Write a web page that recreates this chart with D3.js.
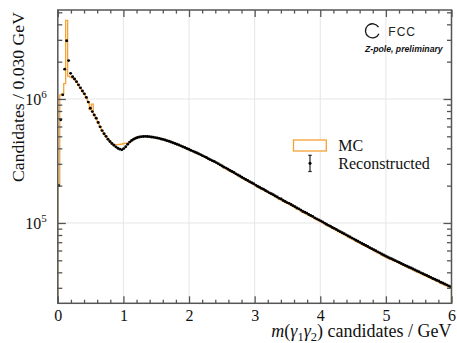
<!DOCTYPE html>
<html><head><meta charset="utf-8">
<script src="https://cdn.jsdelivr.net/npm/d3@7"></script>
<style>body{margin:0;background:#fff} svg{display:block}</style>
</head><body>
<script>
// Diphoton invariant mass spectrum, 200 bins of 0.030 GeV from 0 to 6 GeV
const binWidth = 0.03;
const massRange = [0, 6];

// Reconstructed candidates per bin
const reco = [
  200e3, 680e3, 1080e3, 1740e3, 2950e3, 2040e3, 1610e3, 1510e3, 1450e3, 1380e3,
  1300e3, 1230e3, 1160e3, 1100e3, 1030e3, 944e3, 841e3, 791e3, 743e3, 700e3,
  646e3, 596e3, 556e3, 525e3, 499e3, 473e3, 454e3, 437e3, 423e3, 411e3,
  401e3, 394e3, 389e3, 398e3, 412e3, 432e3, 449e3, 462e3, 473e3, 482e3,
  489e3, 493e3, 497e3, 498e3, 499e3, 498e3, 497e3, 494e3, 491e3, 488e3,
  485e3, 481e3, 476e3, 472e3, 467e3, 461e3, 456e3, 450e3, 444e3, 438e3,
  432e3, 426e3, 419e3, 412e3, 406e3, 399e3, 393e3, 386e3, 380e3, 374e3,
  368e3, 362e3, 356e3, 349e3, 343e3, 337e3, 330e3, 324e3, 318e3, 313e3,
  307e3, 301e3, 294e3, 288e3, 282e3, 277e3, 271e3, 265e3, 260e3, 255e3,
  249e3, 244e3, 239e3, 234e3, 229e3, 224e3, 220e3, 215e3, 211e3, 207e3,
  202e3, 198e3, 194e3, 190e3, 187e3, 183e3, 179e3, 175e3, 172e3, 169e3,
  165e3, 162e3, 158e3, 156e3, 152e3, 149e3, 146e3, 144e3, 141e3, 138e3,
  135e3, 132e3, 130e3, 127e3, 124e3, 122e3, 120e3, 117e3, 115e3, 113e3,
  110e3, 108e3, 106e3, 104e3, 102e3, 99.8e3, 97.7e3, 95.7e3, 94.0e3, 92.0e3,
  90.4e3, 88.5e3, 86.7e3, 85.1e3, 83.4e3, 81.8e3, 80.2e3, 78.5e3, 77.1e3, 75.5e3,
  74.1e3, 72.6e3, 71.3e3, 69.8e3, 68.4e3, 67.1e3, 65.8e3, 64.6e3, 63.2e3, 62.1e3,
  60.8e3, 59.7e3, 58.5e3, 57.4e3, 56.2e3, 55.2e3, 54.2e3, 53.2e3, 52.2e3, 51.4e3,
  50.5e3, 49.7e3, 48.8e3, 48.0e3, 47.1e3, 46.3e3, 45.5e3, 44.8e3, 44.0e3, 43.3e3,
  42.5e3, 41.8e3, 41.0e3, 40.4e3, 39.6e3, 39.0e3, 38.3e3, 37.7e3, 37.0e3, 36.4e3,
  35.7e3, 35.2e3, 34.5e3, 34.0e3, 33.3e3, 32.8e3, 32.2e3, 31.7e3, 31.1e3, 30.6e3
];

// Simulated (MC) candidates per bin
const mc = [
  205e3, 1080e3, 1100e3, 1330e3, 4300e3, 1530e3, 1500e3, 1480e3, 1440e3, 1380e3,
  1300e3, 1230e3, 1160e3, 1100e3, 1030e3, 944e3, 820e3, 910e3, 745e3, 700e3,
  646e3, 596e3, 556e3, 525e3, 499e3, 473e3, 454e3, 435e3, 430e3, 429e3,
  429e3, 430e3, 432e3, 436e3, 440e3, 438e3, 449e3, 462e3, 473e3, 482e3,
  489e3, 493e3, 497e3, 498e3, 499e3, 498e3, 497e3, 494e3, 491e3, 488e3,
  485e3, 481e3, 476e3, 472e3, 467e3, 461e3, 456e3, 450e3, 444e3, 438e3,
  432e3, 426e3, 419e3, 412e3, 406e3, 399e3, 393e3, 386e3, 380e3, 374e3,
  368e3, 362e3, 356e3, 349e3, 343e3, 337e3, 330e3, 324e3, 318e3, 313e3,
  307e3, 301e3, 294e3, 288e3, 279e3, 274e3, 268e3, 262e3, 257e3, 252e3,
  247e3, 242e3, 237e3, 232e3, 227e3, 222e3, 218e3, 213e3, 209e3, 205e3,
  200e3, 196e3, 192e3, 188e3, 185e3, 181e3, 177e3, 173e3, 170e3, 167e3,
  163e3, 160e3, 156e3, 154e3, 150e3, 147e3, 144e3, 142e3, 139e3, 136e3,
  133e3, 130e3, 128e3, 125e3, 122e3, 120e3, 118e3, 115.5e3, 113.5e3, 111.5e3,
  108.5e3, 106.5e3, 104.5e3, 102.5e3, 100.5e3, 98.3e3, 96.2e3, 94.3e3, 92.6e3, 90.6e3,
  89.0e3, 87.2e3, 85.4e3, 83.8e3, 82.1e3, 80.6e3, 79.0e3, 77.3e3, 75.9e3, 74.4e3,
  73.0e3, 71.5e3, 70.2e3, 68.8e3, 67.4e3, 66.1e3, 64.8e3, 63.6e3, 62.3e3, 61.2e3,
  59.9e3, 58.8e3, 57.6e3, 56.5e3, 55.4e3, 54.4e3, 53.4e3, 52.4e3, 51.4e3, 50.6e3,
  49.7e3, 49.0e3, 48.1e3, 47.3e3, 46.4e3, 45.6e3, 44.8e3, 44.1e3, 43.3e3, 42.7e3,
  41.9e3, 41.2e3, 40.4e3, 39.8e3, 39.0e3, 38.4e3, 37.7e3, 37.1e3, 36.4e3, 35.9e3,
  35.2e3, 34.7e3, 34.0e3, 33.5e3, 32.8e3, 32.3e3, 31.7e3, 31.2e3, 30.6e3, 30.1e3
];

const xMajorTicks = [0, 1, 2, 3, 4, 5, 6];
const xMinorTicks = [0.2,0.4,0.6,0.8,1.2,1.4,1.6,1.8,2.2,2.4,2.6,2.8,3.2,3.4,3.6,3.8,4.2,4.4,4.6,4.8,5.2,5.4,5.6,5.8];
const yMajorTicks = [1e5, 1e6];
const yMinorTicks = [3e4,4e4,5e4,6e4,7e4,8e4,9e4,2e5,3e5,4e5,5e5,6e5,7e5,8e5,9e5,2e6,3e6,4e6,5e6];
const yTickExponents = ["5", "6"];
const legendLabels = ["MC", "Reconstructed"];
const xTitle = ["m", "(", "γ", "1", "γ", "2", ") candidates / GeV"];
const yTitle = "Candidates / 0.030 GeV";

const W = 457, H = 343;
const serif = "'Liberation Serif','Times New Roman',serif";
const sans = "'Liberation Sans',Arial,sans-serif";
const orange = "#f5a236";
const axisCol = "#555";

const x = d3.scaleLinear().domain(massRange).range([57.8, 451.5]);
const y = d3.scaleLog().domain([2.25e4, 5.22e6]).range([303.3, 10]);
const [x0, x1] = x.range();
const [yB, yT] = y.range();

const svg = d3.select("body").append("svg").attr("width", W).attr("height", H);

svg.append("defs").append("clipPath").attr("id", "plotclip")
  .append("rect").attr("x", x0).attr("y", yT).attr("width", x1 - x0).attr("height", yB - yT);

// grid
const grid = svg.append("g");
grid.selectAll(".gx").data(xMajorTicks.slice(1, -1)).join("line")
  .attr("x1", d => x(d)).attr("x2", d => x(d)).attr("y1", yT).attr("y2", yB)
  .attr("stroke", "#e6e6e6").attr("stroke-width", 1);
grid.selectAll(".gy").data(yMajorTicks).join("line")
  .attr("x1", x0).attr("x2", x1).attr("y1", d => y(d)).attr("y2", d => y(d))
  .attr("stroke", "#e6e6e6").attr("stroke-width", 1);

const plot = svg.append("g").attr("clip-path", "url(#plotclip)");

// MC histogram as a step outline
const stepPts = [[x(massRange[0]), yB]];
mc.forEach((v, i) => {
  const lo = massRange[0] + i * binWidth, hi = lo + binWidth;
  stepPts.push([x(lo), y(v)], [x(hi), y(v)]);
});
stepPts.push([x(massRange[1]), yB]);
plot.append("path").attr("d", d3.line()(stepPts))
  .attr("fill", "none").attr("stroke", orange).attr("stroke-width", 1.3)
  .attr("stroke-linejoin", "miter");

// reconstructed points
plot.selectAll("circle.reco").data(reco).join("circle")
  .attr("class", "reco")
  .attr("cx", (d, i) => x(massRange[0] + (i + 0.5) * binWidth))
  .attr("cy", d => y(d))
  .attr("r", 1.45).attr("fill", "#000");

// axes (ticks pointing inward on all four sides)
function styleAxis(g) {
  g.select(".domain").remove();
  g.selectAll("line").attr("stroke", axisCol).attr("stroke-width", 1.3);
}
const fmtNone = () => "";
svg.append("g").attr("transform", `translate(0,${yB})`)
  .call(d3.axisBottom(x).tickValues(xMinorTicks).tickSize(-3.6).tickFormat(fmtNone)).call(styleAxis);
svg.append("g").attr("transform", `translate(0,${yT})`)
  .call(d3.axisTop(x).tickValues(xMinorTicks).tickSize(-3.6).tickFormat(fmtNone)).call(styleAxis);
svg.append("g").attr("transform", `translate(0,${yT})`)
  .call(d3.axisTop(x).tickValues(xMajorTicks).tickSize(-7).tickFormat(fmtNone)).call(styleAxis);
const xb = svg.append("g").attr("transform", `translate(0,${yB})`)
  .call(d3.axisBottom(x).tickValues(xMajorTicks).tickSize(-7).tickPadding(6).tickFormat(d3.format("d")))
  .call(styleAxis);
xb.selectAll("text").attr("font-family", serif).attr("font-size", 16).attr("fill", "#111");

svg.append("g").attr("transform", `translate(${x0},0)`)
  .call(d3.axisLeft(y).tickValues(yMinorTicks).tickSize(-4.5).tickFormat(fmtNone)).call(styleAxis);
svg.append("g").attr("transform", `translate(${x1},0)`)
  .call(d3.axisRight(y).tickValues(yMinorTicks).tickSize(-4.5).tickFormat(fmtNone)).call(styleAxis);
svg.append("g").attr("transform", `translate(${x1},0)`)
  .call(d3.axisRight(y).tickValues(yMajorTicks).tickSize(-8).tickFormat(fmtNone)).call(styleAxis);
const yl = svg.append("g").attr("transform", `translate(${x0},0)`)
  .call(d3.axisLeft(y).tickValues(yMajorTicks).tickSize(-8).tickPadding(11).tickFormat(fmtNone))
  .call(styleAxis);
yl.selectAll("text").each(function (d, i) {
  const t = d3.select(this).attr("font-family", serif).attr("font-size", 16).attr("fill", "#111");
  t.append("tspan").text("10");
  t.append("tspan").attr("font-size", 11).attr("dy", -6.5).text(yTickExponents[i]);
});

// frame
svg.append("rect").attr("x", x0).attr("y", yT).attr("width", x1 - x0).attr("height", yB - yT)
  .attr("fill", "none").attr("stroke", axisCol).attr("stroke-width", 1.5);

// axis titles
svg.append("text").attr("transform", `translate(24,12) rotate(-90)`)
  .attr("text-anchor", "end").attr("font-family", serif).attr("font-size", 17.7)
  .attr("fill", "#111").text(yTitle);

const xt = svg.append("text").attr("x", x1).attr("y", 337).attr("text-anchor", "end")
  .attr("font-family", serif).attr("font-size", 18).attr("fill", "#111");
xt.append("tspan").attr("font-style", "italic").text(xTitle[0]);
xt.append("tspan").text(xTitle[1]);
xt.append("tspan").attr("font-style", "italic").text(xTitle[2]);
xt.append("tspan").attr("font-size", 12.5).attr("dy", 3.5).text(xTitle[3]);
xt.append("tspan").attr("font-style", "italic").attr("dy", -3.5).text(xTitle[4]);
xt.append("tspan").attr("font-size", 12.5).attr("dy", 3.5).text(xTitle[5]);
xt.append("tspan").attr("dy", -3.5).text(xTitle[6]);

// legend
const lg = svg.append("g");
lg.append("rect").attr("x", 293.5).attr("y", 140).attr("width", 32.8).attr("height", 11)
  .attr("fill", "#fff").attr("stroke", orange).attr("stroke-width", 1.3);
lg.append("text").attr("x", 338.3).attr("y", 150.7).attr("font-family", serif)
  .attr("font-size", 16).attr("fill", "#111").text(legendLabels[0]);
lg.append("line").attr("x1", 310).attr("x2", 310).attr("y1", 155.3).attr("y2", 171.5)
  .attr("stroke", "#222").attr("stroke-width", 1.2);
lg.selectAll(".cap").data([155.3, 171.5]).join("line")
  .attr("x1", 308.3).attr("x2", 311.7).attr("y1", d => d).attr("y2", d => d)
  .attr("stroke", "#222").attr("stroke-width", 1.2);
lg.append("circle").attr("cx", 310).attr("cy", 163.3).attr("r", 1.5).attr("fill", "#000");
lg.append("text").attr("x", 338.3).attr("y", 168.7).attr("font-family", serif)
  .attr("font-size", 16).attr("fill", "#111").text(legendLabels[1]);

// experiment label: open-ring emblem, name and status line
const logo = svg.append("g");
logo.append("path").attr("transform", "translate(372.5,30.8)")
  .attr("d", d3.arc().innerRadius(6.4).outerRadius(7.7).startAngle(Math.PI / 2 + 0.42).endAngle(2.5 * Math.PI - 0.55)())
  .attr("fill", "#111");
logo.append("text").attr("x", 388.3).attr("y", 36).attr("font-family", sans)
  .attr("font-size", 12).attr("letter-spacing", 1).attr("fill", "#222").text("FCC");
logo.append("text").attr("x", 442.7).attr("y", 52.3).attr("text-anchor", "end")
  .attr("font-family", sans).attr("font-size", 8.7).attr("font-weight", "bold")
  .attr("font-style", "italic").attr("fill", "#111").text("Z-pole, preliminary");
</script>
</body></html>
